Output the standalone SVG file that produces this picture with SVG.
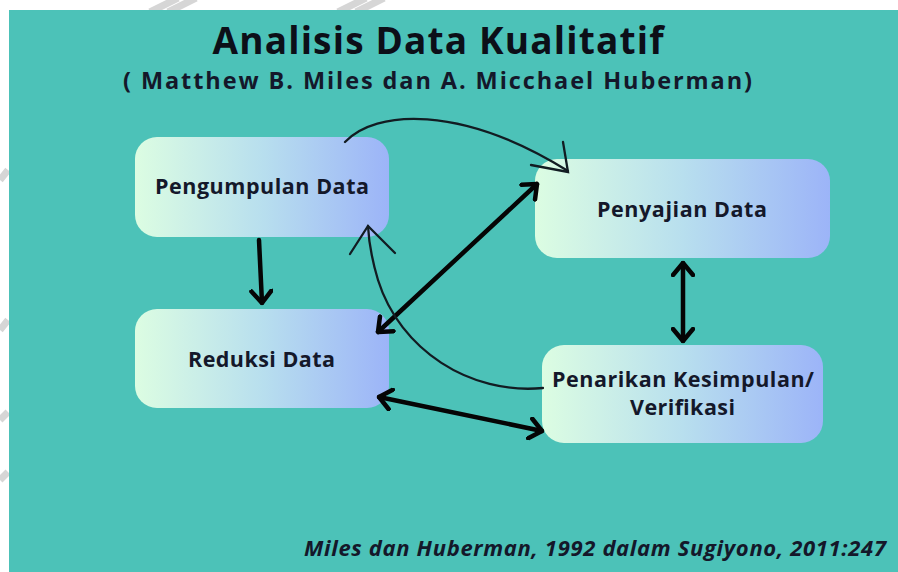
<svg xmlns="http://www.w3.org/2000/svg" width="898" height="572" viewBox="0 0 898 572">
<style>
.lbl{font-family:"Open Sans","Liberation Sans",sans-serif;font-weight:bold;font-size:21.5px;fill:#14182a;text-anchor:middle}
.box{fill:url(#g)}
.thick{stroke:#050505;stroke-width:4.5;fill:none;stroke-linecap:round}
.thin{stroke:#121c22;stroke-width:2.3;fill:none;stroke-linecap:round}
.wm{stroke:#d6d6d6;stroke-width:7;fill:none}
</style>
<defs>
<linearGradient id="g" x1="0" y1="0" x2="1" y2="0">
<stop offset="0" stop-color="#dcfde2"/>
<stop offset="0.5" stop-color="#b8dfee"/>
<stop offset="1" stop-color="#9cb4f8"/>
</linearGradient>
<marker id="ch" viewBox="0 0 16 24" refX="14" refY="12" markerWidth="16" markerHeight="24" markerUnits="userSpaceOnUse" orient="auto-start-reverse">
<path d="M2,2 L14,12 L2,22" fill="none" stroke="#050505" stroke-width="4.5" stroke-linecap="round" stroke-linejoin="round"/>
</marker>
</defs>
<rect x="0" y="0" width="898" height="572" fill="#ffffff"/>
<g id="watermark">
<path class="wm" d="M150,12 L178,-2 M168,12 L196,-2 M338,12 L366,-2 M356,12 L384,-2"/>
<path class="wm" d="M0,180 L8,170 M0,330 L8,320 M0,420 L8,412 M0,480 L8,472"/>
</g>
<rect x="9" y="10" width="889" height="562" fill="#4cc2b8"/>
<text x="438" y="54" font-family="'Open Sans','Liberation Sans',sans-serif" font-weight="bold" font-size="37" fill="#0c0f18" text-anchor="middle" textLength="451">Analisis Data Kualitatif</text>
<text x="437.5" y="89" font-family="'Open Sans','Liberation Sans',sans-serif" font-weight="bold" font-size="23.5" fill="#14182a" text-anchor="middle" textLength="629">( Matthew B. Miles dan A. Micchael Huberman)</text>
<g id="node-pengumpulan">
<rect class="box" x="135" y="137" width="254" height="100" rx="22"/>
<text class="lbl" x="262" y="194" textLength="214">Pengumpulan Data</text>
</g>
<g id="node-reduksi">
<rect class="box" x="135" y="309" width="254" height="99" rx="22"/>
<text class="lbl" x="261.5" y="367" textLength="147">Reduksi Data</text>
</g>
<g id="node-penyajian">
<rect class="box" x="535" y="159" width="295" height="99" rx="22"/>
<text class="lbl" x="682" y="217" textLength="170">Penyajian Data</text>
</g>
<g id="node-penarikan">
<rect class="box" x="542" y="345" width="281" height="98" rx="22"/>
<text class="lbl" x="683" y="387" textLength="262">Penarikan Kesimpulan/</text>
<text class="lbl" x="682.5" y="415" textLength="105">Verifikasi</text>
</g>
<g id="connectors">
<path class="thick" d="M259,240 L262,303" marker-end="url(#ch)"/>
<path class="thick" d="M378,332 L537,184" marker-start="url(#ch)" marker-end="url(#ch)"/>
<path class="thick" d="M379,397 L542,431" marker-start="url(#ch)" marker-end="url(#ch)"/>
<path class="thick" d="M683,263 L683,341" marker-start="url(#ch)" marker-end="url(#ch)"/>
<path class="thin" d="M345,142 C375,110 460,104 568,171"/>
<path class="thin" d="M563,142 L568,172 L531,165"/>
<path class="thin" d="M543,388 C470,395 400,350 378,280 C372,260 369,245 368,226"/>
<path class="thin" d="M350,254 L368,226 L395,253"/>
</g>
<text x="886" y="556" font-family="'Open Sans','Liberation Sans',sans-serif" font-weight="bold" font-style="italic" font-size="22" fill="#14182a" text-anchor="end" textLength="582">Miles dan Huberman, 1992 dalam Sugiyono, 2011:247</text>
</svg>
